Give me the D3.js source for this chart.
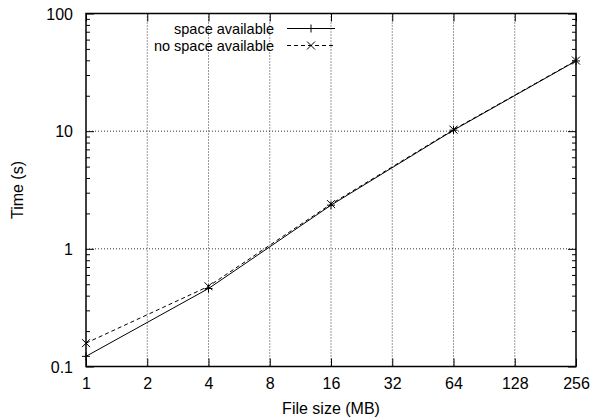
<!DOCTYPE html>
<html><head><meta charset="utf-8">
<script src="https://cdn.jsdelivr.net/npm/d3@7"></script>
<style>body{margin:0;background:#fff}text{font-family:"Liberation Sans",Arial,sans-serif;}</style>
</head><body><svg id="c" width="594" height="420"></svg>
<script>
const sizes = [1, 4, 16, 64, 256];
const spaceAvail = [0.122, 0.46, 2.35, 10.2, 39.5];
const noSpaceAvail = [0.158, 0.48, 2.40, 10.3, 39.8];
const xTicks = [1, 2, 4, 8, 16, 32, 64, 128, 256];
const yTicks = [0.1, 1, 10, 100];
const seriesNames = ["space available", "no space available"];

const svg = d3.select("#c");
const L = 86, R = 576, T = 13.5, B = 366.5;
const x = d3.scaleLog().base(2).domain([1, 256]).range([L, R]);
const y = d3.scaleLog().domain([0.1, 100]).range([B, T]);

// grid
const g = svg.append("g");
xTicks.slice(1, -1).forEach(v => g.append("line").attr("x1", x(v)).attr("x2", x(v)).attr("y1", T).attr("y2", B)
  .attr("stroke", "#000").attr("stroke-width", 0.8).attr("stroke-dasharray", "1,2"));
yTicks.slice(1, -1).forEach(v => g.append("line").attr("x1", L).attr("x2", R).attr("y1", y(v)).attr("y2", y(v))
  .attr("stroke", "#000").attr("stroke-width", 0.8).attr("stroke-dasharray", "1,2"));

// axes
const fs = 16;
const xb = d3.axisBottom(x).tickValues(xTicks).tickFormat(d3.format("d")).tickSizeInner(-8).tickSizeOuter(0).tickPadding(22.5);
const xt = d3.axisTop(x).tickValues(xTicks).tickFormat("").tickSizeInner(-8).tickSizeOuter(0);
const minors = [];
[0.1, 1, 10].forEach(d => { for (let k = 2; k <= 9; k++) minors.push(d * k); });
const yl = d3.axisLeft(y).tickValues(yTicks).tickFormat(d => d3.format("~g")(d)).tickSizeInner(-8).tickSizeOuter(0).tickPadding(13);
const ylm = d3.axisLeft(y).tickValues(minors).tickFormat("").tickSizeInner(-4).tickSizeOuter(0);
const yr = d3.axisRight(y).tickValues(yTicks).tickFormat("").tickSizeInner(-8).tickSizeOuter(0);
const yrm = d3.axisRight(y).tickValues(minors).tickFormat("").tickSizeInner(-4).tickSizeOuter(0);
function style(sel) {
  sel.select(".domain").remove();
  sel.selectAll("line").attr("stroke", "#000").attr("stroke-width", 1);
  sel.selectAll("text").attr("font-size", fs).attr("fill", "#000").style("font-family", '"Liberation Sans",Arial,sans-serif');
}
const gxb = svg.append("g").attr("transform", `translate(0,${B})`).call(xb).call(style);
gxb.selectAll("text").attr("dy", null);
svg.append("g").attr("transform", `translate(0,${T})`).call(xt).call(style);
const gyl = svg.append("g").attr("transform", `translate(${L},0)`).call(yl).call(style);
gyl.selectAll("text").attr("dy", "0.35em");
svg.append("g").attr("transform", `translate(${L},0)`).call(ylm).call(style);
svg.append("g").attr("transform", `translate(${R},0)`).call(yr).call(style);
svg.append("g").attr("transform", `translate(${R},0)`).call(yrm).call(style);

// border
svg.append("rect").attr("x", L).attr("y", T).attr("width", R - L).attr("height", B - T)
  .attr("fill", "none").attr("stroke", "#000").attr("stroke-width", 1.5);

// labels
svg.append("text").attr("x", (L + R) / 2).attr("y", 414).attr("text-anchor", "middle").attr("font-size", fs).text("File size (MB)");
svg.append("text").attr("transform", `translate(23,${(T + B) / 2}) rotate(-90)`).attr("text-anchor", "middle").attr("font-size", fs).text("Time (s)");

// series
const line = d3.line().x(d => x(d[0])).y(d => y(d[1]));
const data = [sizes.map((s, i) => [s, spaceAvail[i]]), sizes.map((s, i) => [s, noSpaceAvail[i]])];
const dashes = [null, "4,3"];
function marker(sel, i, cx, cy) {
  const r = 4;
  if (i === 0) {
    sel.append("path").attr("d", `M${cx - r},${cy}H${cx + r}M${cx},${cy - r}V${cy + r}`).attr("stroke", "#000").attr("stroke-width", 1);
  } else {
    sel.append("path").attr("d", `M${cx - r},${cy - r}L${cx + r},${cy + r}M${cx - r},${cy + r}L${cx + r},${cy - r}`).attr("stroke", "#000").attr("stroke-width", 1);
  }
}
data.forEach((d, i) => {
  svg.append("path").datum(d).attr("d", line).attr("fill", "none").attr("stroke", "#000").attr("stroke-width", 1)
    .attr("stroke-dasharray", dashes[i]);
  const mg = svg.append("g");
  d.forEach(p => marker(mg, i, x(p[0]), y(p[1])));
});

// legend
seriesNames.forEach((n, i) => {
  const ly = 28.5 + i * 17;
  svg.append("text").attr("x", 274).attr("y", ly + 5).attr("text-anchor", "end").attr("font-size", 14.5).text(n);
  svg.append("line").attr("x1", 287).attr("x2", 335).attr("y1", ly).attr("y2", ly).attr("stroke", "#000").attr("stroke-width", 1)
    .attr("stroke-dasharray", dashes[i]);
  marker(svg, i, 311, ly);
});
</script></body></html>
